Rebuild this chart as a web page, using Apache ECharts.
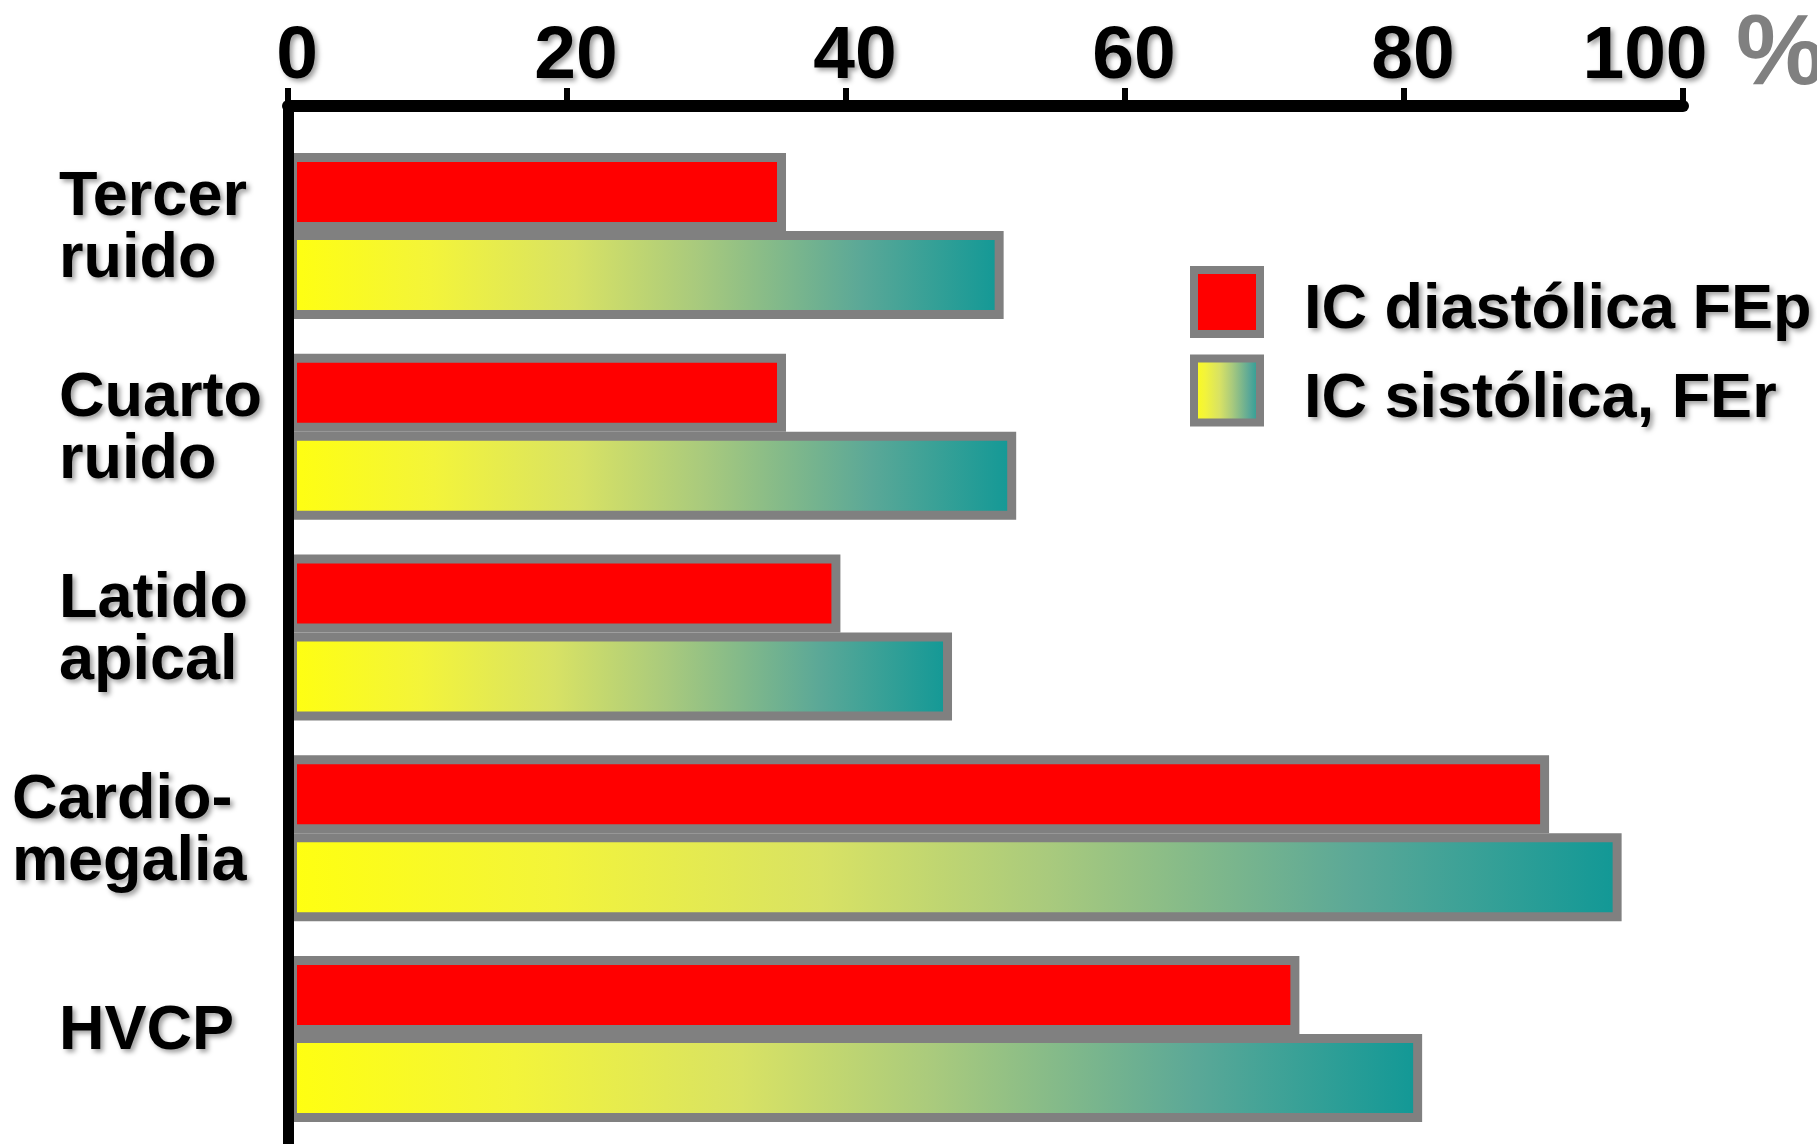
<!DOCTYPE html>
<html><head><meta charset="utf-8">
<script src="https://cdn.jsdelivr.net/npm/echarts@6/dist/echarts.min.js"></script>
<style>html,body{margin:0;padding:0;background:#fff;overflow:hidden}#c{width:1817px;height:1144px;}</style>
</head><body><div id="c"></div>
<script>
// ---- data ----
const categories = ['Tercer\nruido', 'Cuarto\nruido', 'Latido\napical', 'Cardio-\nmegalia', 'HVCP'];
const seriesNames = ['IC diastólica FEp', 'IC sistólica, FEr'];
const diastolicaFEp = [35.7, 35.7, 39.6, 90.4, 72.5];
const sistolicaFEr = [51.3, 52.2, 47.6, 95.6, 81.3];
const xTicks = [0, 20, 40, 60, 80, 100];
const unitLabel = '%';

// ---- styles ----
const FONT = '"Liberation Sans", Arial, Helvetica, sans-serif';
const shadow = { textShadowColor: 'rgba(0,0,0,0.38)', textShadowBlur: 5, textShadowOffsetX: 3, textShadowOffsetY: 3 };
const BORDER = '#808080';
const gradient = new echarts.graphic.LinearGradient(0, 0, 1, 0, [
  { offset: 0, color: '#FFFF10' },
  { offset: 0.2, color: '#F3F43A' },
  { offset: 0.4, color: '#D8E264' },
  { offset: 0.57, color: '#A9CA7D' },
  { offset: 0.8, color: '#5BA897' },
  { offset: 1, color: '#109896' }
]);

const xMin = xTicks[0], xMax = xTicks[xTicks.length - 1], xStep = xTicks[1] - xTicks[0];
const GL = 288, GR = 1817 - 1683;

const chart = echarts.init(document.getElementById('c'), null, { renderer: 'canvas' });
chart.setOption({
  animation: false,
  backgroundColor: '#fff',
  textStyle: { fontFamily: FONT },
  grid: [
    { left: GL, right: GR, top: 106, bottom: 0, containLabel: false, outerBoundsMode: 'none' },
    { left: GL, right: GR, top: 135.6, bottom: 4.6, containLabel: false, outerBoundsMode: 'none' }
  ],
  legend: {
    data: seriesNames,
    orient: 'vertical',
    left: 1190, top: 265,
    padding: 0,
    itemWidth: 66, itemHeight: 64, itemGap: 11,
    icon: 'rect',
    selectedMode: false,
    itemStyle: { borderColor: BORDER, borderWidth: 8 },
    formatter: name => '{s| }\n{t|' + name + '}',
    textStyle: {
      fontFamily: FONT, fontSize: 63, fontWeight: 'bold', color: '#000',
      rich: {
        s: { fontSize: 10, lineHeight: 18 },
        t: Object.assign({ fontFamily: FONT, fontSize: 63, fontWeight: 'bold', color: '#000', lineHeight: 64, padding: [0, 0, 0, 39] }, shadow)
      }
    }
  },
  xAxis: [
    {
      gridIndex: 0, type: 'value', position: 'top',
      min: xMin, max: xMax, interval: xStep,
      axisLine: { show: true, onZero: false, lineStyle: { color: '#000', width: 12 } },
      axisTick: { show: true, length: 18, lineStyle: { color: '#000', width: 6 } },
      splitLine: { show: false },
      axisLabel: {
        margin: 11,
        formatter: v => (v === xMax ? '{e|' + v + '}' : '{n|' + v + '}'),
        rich: {
          n: Object.assign({ fontFamily: FONT, fontSize: 75, fontWeight: 'bold', color: '#000', padding: [0, 0, 0, 18] }, shadow),
          e: Object.assign({ fontFamily: FONT, fontSize: 75, fontWeight: 'bold', color: '#000', padding: [0, 76, 0, 0] }, shadow)
        }
      },
      name: unitLabel, nameLocation: 'end', nameGap: 53, nameMoveOverlap: false,
      nameTextStyle: { fontFamily: FONT, fontSize: 100, fontWeight: 'bold', color: '#808080', align: 'left', verticalAlign: 'bottom', lineHeight: 92, padding: [0, 0, 4, 0] }
    },
    { gridIndex: 1, type: 'value', min: xMin, max: xMax, show: false }
  ],
  yAxis: [
    {
      gridIndex: 0, type: 'value', position: 'left', min: 0, max: 1, z: 10,
      axisLine: { show: true, onZero: false, lineStyle: { color: '#000', width: 11 } },
      axisTick: { show: false }, axisLabel: { show: false }, splitLine: { show: false }
    },
    {
      gridIndex: 1, type: 'category', inverse: true, data: categories,
      axisLine: { show: false }, axisTick: { show: false }, splitLine: { show: false },
      axisLabel: {
        interval: 0, align: 'left', margin: 276, padding: [0, 0, 14, 0],
        formatter: (v, i) => {
          const key = v.indexOf('-\n') >= 0 ? 'b' : 'a';
          return v.split('\n').map(s => '{' + key + '|' + s + '}').join('\n');
        },
        rich: {
          a: Object.assign({ fontFamily: FONT, fontSize: 63, fontWeight: 'bold', color: '#000', lineHeight: 62, padding: [0, 0, 0, 47] }, shadow),
          b: Object.assign({ fontFamily: FONT, fontSize: 63, fontWeight: 'bold', color: '#000', lineHeight: 62 }, shadow)
        }
      }
    }
  ],
  series: [
    {
      name: seriesNames[0], type: 'bar', xAxisIndex: 1, yAxisIndex: 1,
      data: diastolicaFEp, barWidth: 78, barGap: '0%',
      itemStyle: { color: '#FF0000', borderColor: BORDER, borderWidth: 9 }
    },
    {
      name: seriesNames[1], type: 'bar', xAxisIndex: 1, yAxisIndex: 1,
      data: sistolicaFEr, barWidth: 88, barGap: '0%',
      itemStyle: { color: gradient, borderColor: BORDER, borderWidth: 9 }
    }
  ]
});
</script></body></html>
